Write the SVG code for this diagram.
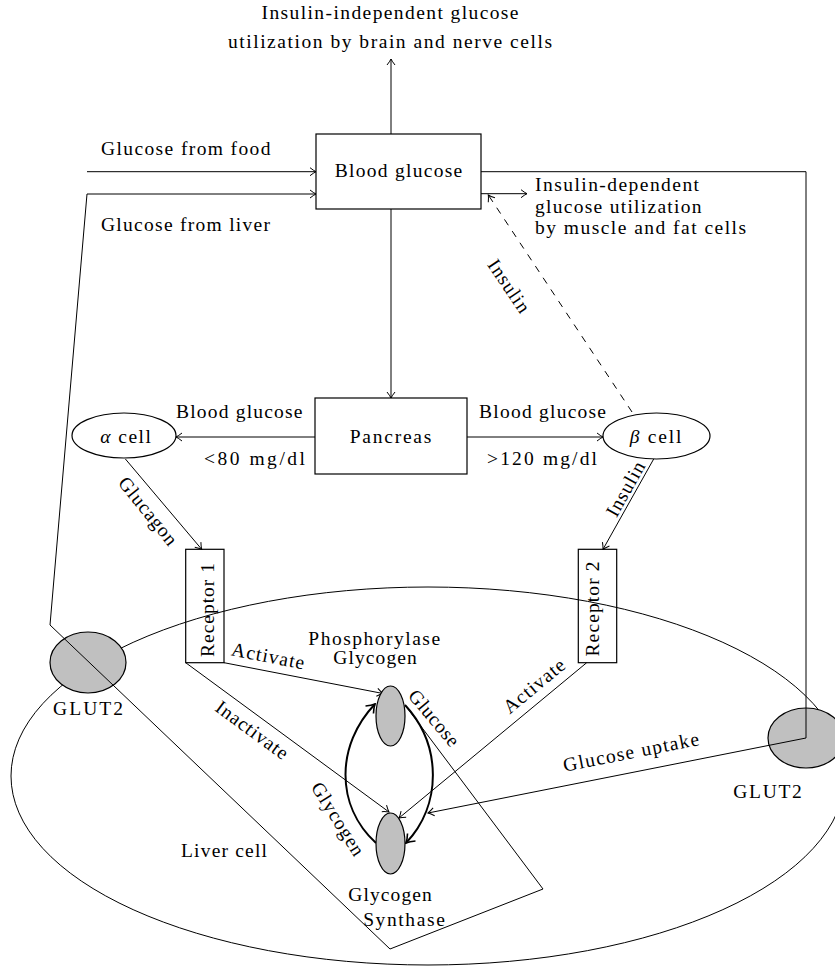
<svg xmlns="http://www.w3.org/2000/svg" width="835" height="967" viewBox="0 0 835 967">
<style>
.t{font-family:"Liberation Serif","DejaVu Serif","Times New Roman",serif;font-size:19.5px;fill:#000}
.m{text-anchor:middle}
.ln{stroke:#000;stroke-width:1;fill:none}
.bx{stroke:#000;stroke-width:1.2;fill:none}
.thk{stroke:#000;stroke-width:2;fill:none}
.gr{fill:#c0c0c0;stroke:#000;stroke-width:1.2}
.dash{stroke-dasharray:7 7}
</style>
<defs>
<marker id="ah" viewBox="-8 -6 9 12" refX="0" refY="0" markerWidth="9" markerHeight="12" orient="auto" markerUnits="userSpaceOnUse">
<path d="M-6,-4 Q-2.5,-1.2 0,0 Q-2.5,1.2 -6,4" fill="none" stroke="#000" stroke-width="1"/>
</marker>
<marker id="ahk" viewBox="-10 -7 11 14" refX="0" refY="0" markerWidth="11" markerHeight="14" orient="auto" markerUnits="userSpaceOnUse">
<path d="M-8,-5.5 Q-3.5,-1.5 0,0 Q-3.5,1.5 -8,5.5" fill="none" stroke="#000" stroke-width="1.6"/>
</marker>
</defs>
<rect width="835" height="967" fill="#fff"/>

<g id="liver-cell">
<ellipse cx="428" cy="776" rx="417" ry="189" class="ln"/>
<text class="t" x="181" y="857" textLength="86">Liver cell</text>
</g>

<g id="glut2-left">
<ellipse cx="88" cy="662.5" rx="38" ry="30.5" class="gr"/>
<text class="t m" x="88" y="715" textLength="70">GLUT2</text>
</g>
<g id="glut2-right">
<ellipse cx="806" cy="738" rx="38" ry="30" class="gr"/>
<text class="t m" x="767.5" y="798" textLength="68.5">GLUT2</text>
</g>

<g id="connectors">
<path class="ln" d="M391,134 L391,59" marker-end="url(#ah)"/>
<path class="ln" d="M87,171.7 L316,171.7" marker-end="url(#ah)"/>
<path class="ln" d="M405,705 L543,889 L390,949 L50,625 L87,194 L316,194" marker-end="url(#ah)"/>
<path class="ln" d="M481,193.7 L527,193.7" marker-end="url(#ah)"/>
<path class="ln" d="M481,171.7 L806,171.7 L806,738 L428,813" marker-end="url(#ah)"/>
<path class="ln" d="M391,209 L391,398" marker-end="url(#ah)"/>
<path class="ln" d="M315,437 L176,437" marker-end="url(#ah)"/>
<path class="ln" d="M467,437 L603,437" marker-end="url(#ah)"/>
<path class="ln dash" d="M632,412 L488.3,195" marker-end="url(#ah)"/>
<path class="ln" d="M125.4,459 L201.7,549.3" marker-end="url(#ah)"/>
<path class="ln" d="M653.7,459 L603,549.3" marker-end="url(#ah)"/>
<path class="ln" d="M224,662.7 L383,693.5" marker-end="url(#ah)"/>
<path class="ln" d="M185.7,662.7 L389,812" marker-end="url(#ah)"/>
<path class="ln" d="M586.7,662.7 L399,818" marker-end="url(#ah)"/>
<path class="thk" d="M376,843 C335,805 336,745 375,704" marker-end="url(#ahk)"/>
<path class="thk" d="M405,705 C442,745 442,805 406,843" marker-end="url(#ahk)"/>

<text class="t" x="101" y="155" textLength="169.5">Glucose from food</text>
<text class="t" x="101" y="231" textLength="169">Glucose from liver</text>
<text class="t" x="176" y="418" textLength="126.5">Blood glucose</text>
<text class="t" x="204" y="465" textLength="101">&lt;80 mg/dl</text>
<text class="t" x="479" y="418" textLength="127">Blood glucose</text>
<text class="t" x="487" y="465" textLength="110">&gt;120 mg/dl</text>
<text class="t m" transform="translate(509,286) rotate(56)" y="6.5" textLength="60">Insulin</text>
<text class="t m" transform="translate(148,511) rotate(51)" y="6.5" textLength="82">Glucagon</text>
<text class="t m" transform="translate(625.5,489) rotate(-60.6)" y="6.5" textLength="60">Insulin</text>
<text class="t m" transform="translate(268,656) rotate(11)" y="6.5" textLength="74">Activate</text>
<text class="t m" transform="translate(252,730) rotate(36.3)" y="6.5" textLength="85">Inactivate</text>
<text class="t m" transform="translate(534,686) rotate(-39.6)" y="6.5" textLength="74">Activate</text>
<text class="t m" transform="translate(631,752) rotate(-11.2)" y="6.5" textLength="138">Glucose uptake</text>
<text class="t m" transform="translate(434,718) rotate(50)" y="6.5" textLength="68">Glucose</text>
<text class="t m" transform="translate(338,819) rotate(58)" y="6.5" textLength="83">Glycogen</text>
</g>

<g id="brain-utilization">
<text class="t m" x="390" y="19" textLength="257">Insulin-independent glucose</text>
<text class="t m" x="390" y="48" textLength="324">utilization by brain and nerve cells</text>
</g>
<g id="muscle-utilization">
<text class="t" x="535" y="191" textLength="164">Insulin-dependent</text>
<text class="t" x="535" y="213" textLength="166.5">glucose utilization</text>
<text class="t" x="535" y="234" textLength="211">by muscle and fat cells</text>
</g>

<g id="blood-glucose">
<rect x="316" y="134" width="165" height="75" class="bx"/>
<text class="t m" x="398.5" y="177" textLength="127.5">Blood glucose</text>
</g>
<g id="pancreas">
<rect x="315" y="398" width="152" height="76" class="bx"/>
<text class="t m" x="390.5" y="443" textLength="81.7">Pancreas</text>
</g>
<g id="alpha-cell">
<ellipse cx="124" cy="435.5" rx="52" ry="22.5" class="bx"/>
<text class="t m" x="125.5" y="443" textLength="50.7"><tspan font-style="italic">α</tspan> cell</text>
</g>
<g id="beta-cell">
<ellipse cx="656.5" cy="436" rx="53.5" ry="23" class="bx"/>
<text class="t m" x="655.5" y="443" textLength="51.7"><tspan font-style="italic">β</tspan> cell</text>
</g>
<g id="receptor1">
<rect x="185.7" y="549.3" width="38.3" height="113.4" class="bx"/>
<text class="t m" transform="translate(214,610) rotate(-90)" textLength="94">Receptor 1</text>
</g>
<g id="receptor2">
<rect x="578.3" y="549.3" width="38.4" height="113.4" class="bx"/>
<text class="t m" transform="translate(599,609) rotate(-90)" textLength="95">Receptor 2</text>
</g>
<g id="phosphorylase">
<ellipse cx="390.5" cy="716" rx="14.5" ry="30" class="gr"/>
<text class="t m" x="374.2" y="645" textLength="131.7">Phosphorylase</text>
<text class="t m" x="375" y="664" textLength="83.4">Glycogen</text>
</g>
<g id="synthase">
<ellipse cx="390.5" cy="843.5" rx="14.5" ry="30.5" class="gr"/>
<text class="t m" x="390" y="901" textLength="83.4">Glycogen</text>
<text class="t m" x="404" y="926" textLength="81.7">Synthase</text>
</g>
</svg>
